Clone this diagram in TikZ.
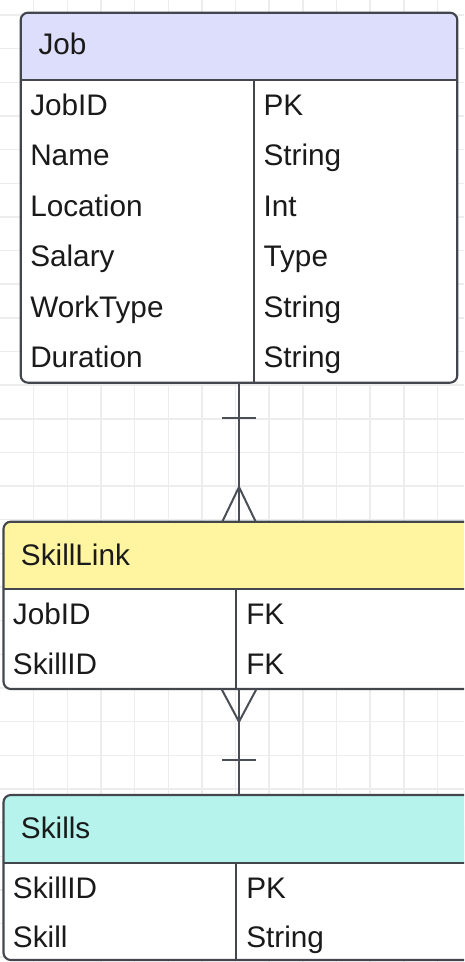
\documentclass[tikz,border=0pt]{standalone}
\usepackage{fontspec}
\setmainfont{Liberation Sans}
\usetikzlibrary{calc}
\definecolor{gridc}{HTML}{EDEDED}
\definecolor{borderc}{HTML}{43464D}
\definecolor{linkc}{HTML}{4A4E56}
\definecolor{textc}{HTML}{1A1A1A}
\definecolor{jobhead}{HTML}{DDDEFB}
\definecolor{linkhead}{HTML}{FFF5A0}
\definecolor{skillhead}{HTML}{B5F3EC}
\tikzset{
  border/.style={draw=borderc, line width=1.6pt},
  txt/.style={anchor=base west, inner sep=0pt, text=textc, font=\fontsize{22.3pt}{25pt}\selectfont},
  conn/.style={draw=linkc, line width=1.5pt},
  holder/.style={inner sep=0pt, minimum width=0pt, minimum height=0pt},
}
\begin{document}
\begin{tikzpicture}[x=0.75pt,y=-0.75pt]
\useasboundingbox (0,0) rectangle (464,962);
\clip (0,0) rectangle (464,962);
\fill[white] (0,0) rectangle (464,962);
% grid
\foreach \k in {1,...,13} {\draw[gridc, line width=1.1pt] (33.65*\k,0) -- (33.65*\k,962);}
\foreach \k in {0,...,28} {\draw[gridc, line width=1.1pt] (0,15+33.65*\k) -- (464,15+33.65*\k);}

% ---------- Job table ----------
\fill[white, rounded corners=5.5pt] (20.7,12.7) rectangle (457.3,382.7);
\fill[jobhead, rounded corners=5.5pt] (20.7,80) -- (20.7,12.7) -- (457.3,12.7) -- (457.3,80) -- cycle;
\fill[jobhead] (20.7,40) rectangle (457.3,80);
\draw[border, rounded corners=5.5pt] (20.7,12.7) rectangle (457.3,382.7);
\draw[border] (20.7,80) -- (457.3,80);
\draw[border] (254,80) -- (254,382.7);
\node[holder] (jobtop) at (239,12.7) {};
\node[holder] (jobbot) at (239,382.7) {};
\node[txt] (jobT) at (38.3,55) {Job};
\node[txt] (j1a) at (30,115.3) {JobID};    \node[txt] (j1b) at (263.3,115.3) {PK};
\node[txt] (j2a) at (30,165.8) {Name};     \node[txt] (j2b) at (263.3,165.8) {String};
\node[txt] (j3a) at (30,216.3) {Location}; \node[txt] (j3b) at (263.3,216.3) {Int};
\node[txt] (j4a) at (30,266.8) {Salary};   \node[txt] (j4b) at (263.3,266.8) {Type};
\node[txt] (j5a) at (30,317.3) {WorkType}; \node[txt] (j5b) at (263.3,317.3) {String};
\node[txt] (j6a) at (30,367.8) {Duration}; \node[txt] (j6b) at (263.3,367.8) {String};

% ---------- SkillLink table ----------
\fill[white, rounded corners=5.5pt] (3.5,521.7) rectangle (474.5,689);
\fill[linkhead, rounded corners=5.5pt] (3.5,589) -- (3.5,521.7) -- (474.5,521.7) -- (474.5,589) -- cycle;
\fill[linkhead] (3.5,550) rectangle (474.5,589);
\draw[border, rounded corners=5.5pt] (3.5,521.7) rectangle (474.5,689);
\draw[border] (3.5,589) -- (474.5,589);
\draw[border] (236.3,589) -- (236.3,689);
\node[holder] (linktop) at (239,521.7) {};
\node[holder] (linkbot) at (239,689) {};
\node[txt] (lT) at (20.7,565) {SkillLink};
\node[txt] (l1a) at (12.7,624) {JobID};   \node[txt] (l1b) at (246,624) {FK};
\node[txt] (l2a) at (12.7,674) {SkillID}; \node[txt] (l2b) at (246,674) {FK};

% ---------- Skills table ----------
\fill[white, rounded corners=5.5pt] (3.5,795) rectangle (474.5,960);
\fill[skillhead, rounded corners=5.5pt] (3.5,862.7) -- (3.5,795) -- (474.5,795) -- (474.5,862.7) -- cycle;
\fill[skillhead] (3.5,825) rectangle (474.5,862.7);
\draw[border, rounded corners=5.5pt] (3.5,795) rectangle (474.5,960);
\draw[border] (3.5,862.7) -- (474.5,862.7);
\draw[border] (236.3,862.7) -- (236.3,960);
\node[holder] (skilltop) at (239,795) {};
\node[txt] (sT) at (20.7,838.3) {Skills};
\node[txt] (s1a) at (12.7,898.3) {SkillID}; \node[txt] (s1b) at (246,898.3) {PK};
\node[txt] (s2a) at (12.7,947.3) {Skill};   \node[txt] (s2b) at (246,947.3) {String};

% ---------- connectors ----------
% Job (one) -- SkillLink (many)
\draw[conn] (jobbot) -- (linktop);
\draw[conn] ($(jobbot)+(-16.7,35.3)$) -- ($(jobbot)+(16.7,35.3)$);
\draw[conn, line join=round] ($(linktop)+(-16.7,0)$) -- ($(linktop)+(0,-34.7)$) -- ($(linktop)+(16.7,0)$);
% SkillLink (many) -- Skills (one)
\draw[conn] (linkbot) -- (skilltop);
\draw[conn, line join=round] ($(linkbot)+(-17.5,0)$) -- ($(linkbot)+(0,32.7)$) -- ($(linkbot)+(17.5,0)$);
\draw[conn] ($(skilltop)+(-16.7,-34.7)$) -- ($(skilltop)+(16.7,-34.7)$);
\end{tikzpicture}
\end{document}
